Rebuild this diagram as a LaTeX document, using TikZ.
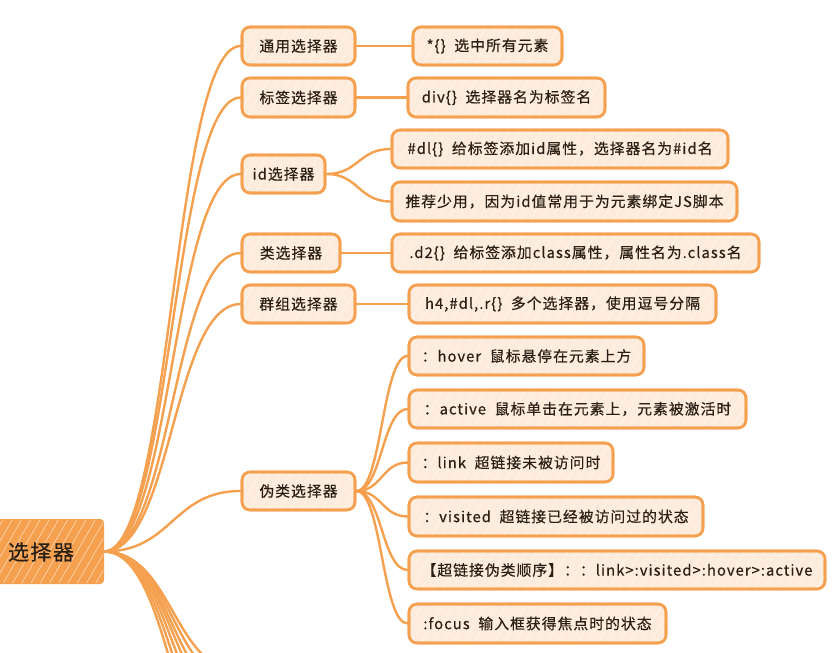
\documentclass[tikz,border=0pt]{standalone}
\usepackage{fontspec}
\setmainfont{Noto Sans CJK SC}[LetterSpace=7, FakeBold=0.4]
\usetikzlibrary{calc,patterns.meta}
\definecolor{org}{HTML}{F5A04E}
\definecolor{pale}{HTML}{FDEBDB}
\definecolor{ink}{HTML}{2A1F14}
\newcommand\mkbox[7]{\node[#1, minimum width={#5-#3}, minimum height={#6-#4}] (#2) at ({(#3+#5)/2},{(#4+#6)/2}) {#7};}
\begin{document}
\begin{tikzpicture}[x=1pt,y=-1pt,
  box/.style={fill=pale, draw=org, line width=2.6pt, rounded corners=8pt, inner sep=0pt, text=ink,
    font=\fontsize{14.8}{17}\selectfont,
    postaction={pattern={Lines[angle=60,distance=9pt,line width=0.5pt]}, pattern color=white, opacity=0.7},
    postaction={draw=org, line width=2.6pt}},
  rootbox/.style={fill=org, draw=org, line width=2pt, rounded corners=3pt, inner sep=0pt,
    postaction={pattern={Lines[angle=60,distance=8pt,line width=0.6pt]}, pattern color=white, opacity=0.6}},
  conn/.style={draw=org, line width=2.4pt, line cap=round,
    to path={let \p1=(\tikztostart), \p2=(\tikztotarget) in
      .. controls ({0.5*\x1+0.5*\x2},\y1) and ({0.5*\x1+0.5*\x2},\y2) .. (\tikztotarget)}}
]
\useasboundingbox (0,0) rectangle (836,653);
\clip (0,0) rectangle (836,653);

% root
\mkbox{rootbox}{root}{-10}{520}{103}{583}{}
\node[text=ink, font=\fontsize{21}{24}\selectfont, inner sep=0pt] (roottext) at (41,552) {选择器};

% level 1
\mkbox{box}{n1}{242}{27}{355}{65}{通用选择器}
\mkbox{box}{n2}{242}{78}{355}{117}{标签选择器}
\mkbox{box}{n3}{242}{155}{325}{193}{id选择器}
\mkbox{box}{n4}{242}{234}{340}{272}{类选择器}
\mkbox{box}{n5}{242}{285}{355}{323}{群组选择器}
\mkbox{box}{n6}{242}{472}{355}{510}{伪类选择器}

% level 2
\mkbox{box}{a1}{413}{27}{562}{65}{*\{\}\ \ 选中所有元素}
\mkbox{box}{a2}{408}{78}{605}{117}{div\{\}\ \ 选择器名为标签名}
\mkbox{box}{a3}{392}{130}{728}{168}{\#dl\{\}\ \ 给标签添加id属性，选择器名为\#id名}
\mkbox{box}{a4}{392}{182}{737}{221}{推荐少用，因为id值常用于为元素绑定JS脚本}
\mkbox{box}{a5}{392}{234}{759}{272}{.d2\{\}\ \ 给标签添加class属性，属性名为.class名}
\mkbox{box}{a6}{409}{285}{716}{323}{h4,\#dl,.r\{\}\ \ 多个选择器，使用逗号分隔}
\mkbox{box}{b1}{409}{337}{644}{375}{：hover\ \ 鼠标悬停在元素上方}
\mkbox{box}{b2}{409}{390}{746}{428}{：active\ \ 鼠标单击在元素上，元素被激活时}
\mkbox{box}{b3}{409}{443}{613}{482}{：link\ \ 超链接未被访问时}
\mkbox{box}{b4}{409}{497}{703}{536}{：visited\ \ 超链接已经被访问过的状态}
\mkbox{box}{b5}{409}{551}{825}{589}{【超链接伪类顺序】：：link>:visited>:hover>:active}
\mkbox{box}{b6}{409}{604}{666}{643}{:focus\ \ 输入框获得焦点时的状态}

% off-screen targets
\foreach \i/\ty in {1/672,2/685,3/700,4/715,5/735,6/760,7/790}
  \coordinate (off\i) at (242,\ty);

% connectors from root
\foreach \t in {n1,n2,n3,n4,n5,n6}
  \draw[conn] (root.east) to (\t.west);
\foreach \i in {1,...,7}
  \draw[conn] (root.east) to (off\i);

% connectors level 1 -> level 2
\draw[conn] (n1.east) to (a1.west);
\draw[conn] (n2.east) to (a2.west);
\draw[conn] (n3.east) to (a3.west);
\draw[conn] (n3.east) to (a4.west);
\draw[conn] (n4.east) to (a5.west);
\draw[conn] (n5.east) to (a6.west);
\foreach \t in {b1,b2,b3,b4,b5,b6}
  \draw[conn] (n6.east) to (\t.west);
\end{tikzpicture}
\end{document}
